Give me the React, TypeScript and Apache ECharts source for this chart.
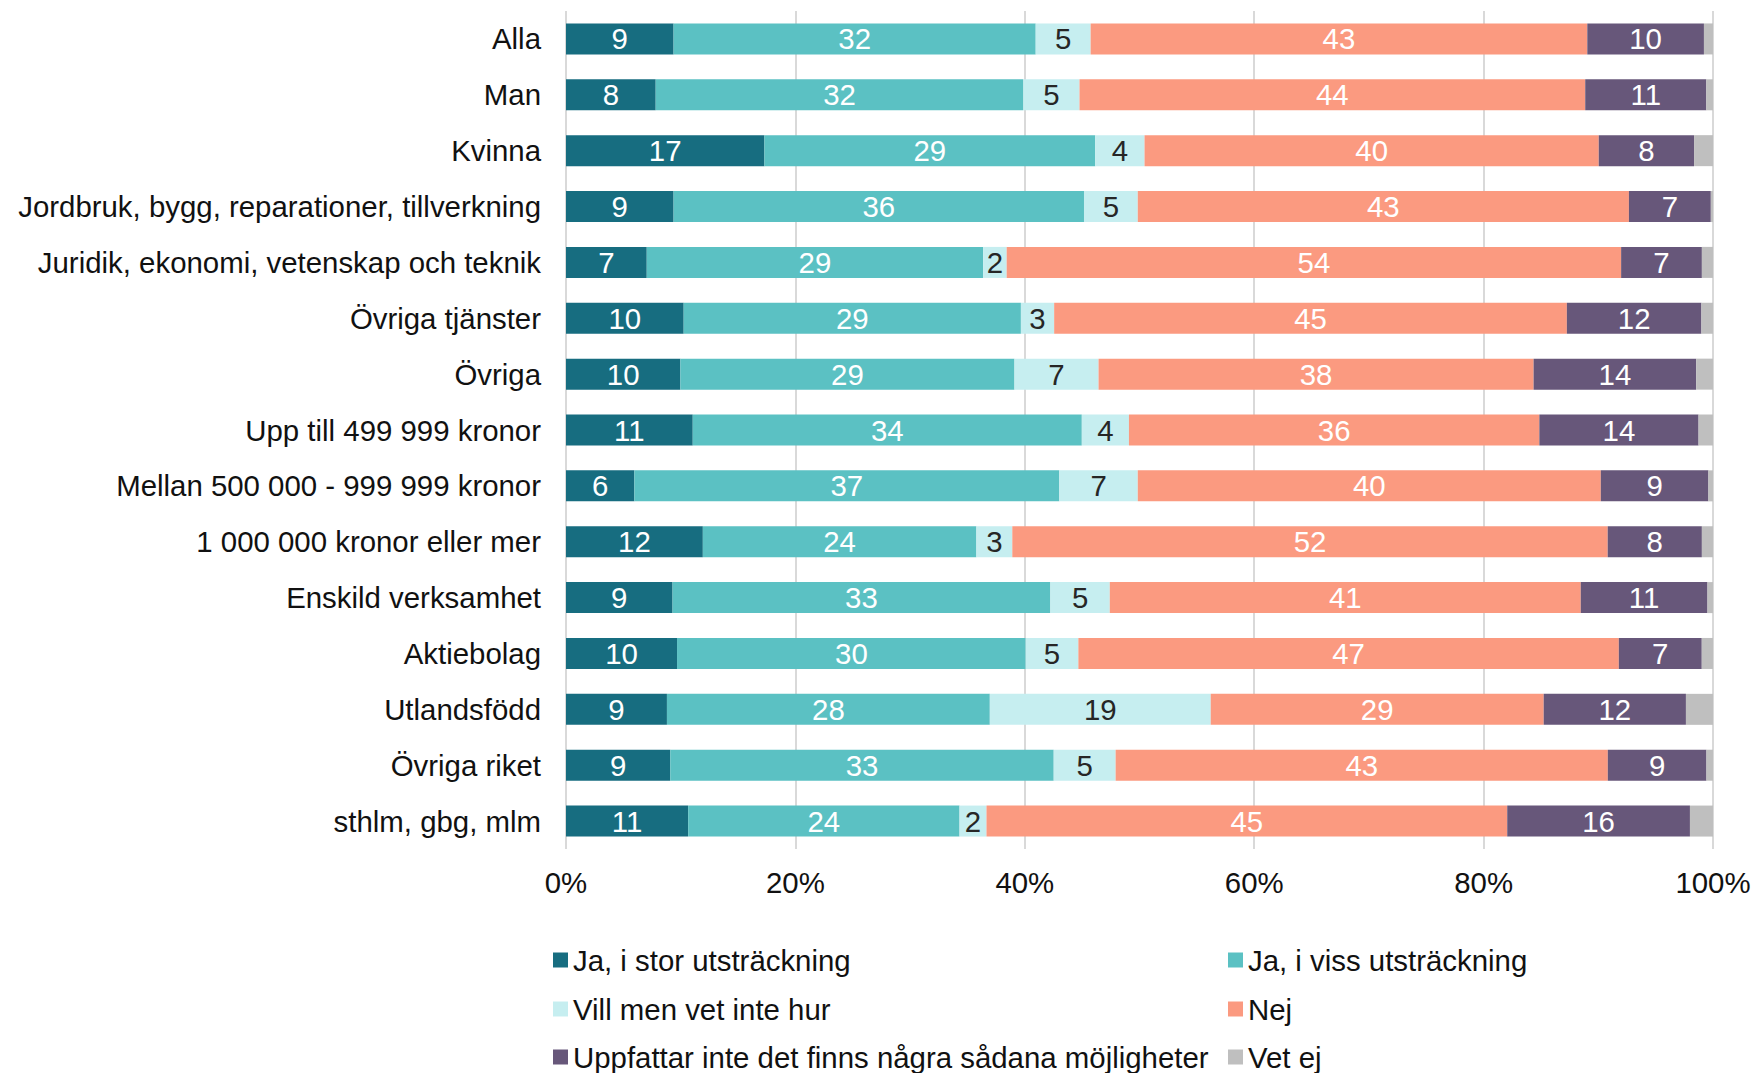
import React, { useEffect, useRef } from "react";
import * as echarts from "echarts";

const categories = [
  "Alla",
  "Man",
  "Kvinna",
  "Jordbruk, bygg, reparationer, tillverkning",
  "Juridik, ekonomi, vetenskap och teknik",
  "Övriga tjänster",
  "Övriga",
  "Upp till 499 999 kronor",
  "Mellan 500 000 - 999 999 kronor",
  "1 000 000 kronor eller mer",
  "Enskild verksamhet",
  "Aktiebolag",
  "Utlandsfödd",
  "Övriga riket",
  "sthlm, gbg, mlm",
];

const seriesNames = [
  "Ja, i stor utsträckning",
  "Ja, i viss utsträckning",
  "Vill men vet inte hur",
  "Nej",
  "Uppfattar inte det finns några sådana möjligheter",
  "Vet ej",
];

const jaStor = [9.38, 7.82, 17.3, 9.38, 7.04, 10.26, 9.97, 11.05, 5.96, 11.93, 9.29, 9.68, 8.8, 9.09, 10.65];
const jaViss = [31.57, 32.06, 28.84, 35.78, 29.33, 29.4, 29.13, 33.92, 37.05, 23.85, 32.94, 30.4, 28.15, 33.43, 23.66];
const villMen = [4.79, 4.89, 4.3, 4.69, 2.05, 2.9, 7.33, 4.11, 6.84, 3.13, 5.18, 4.59, 19.26, 5.4, 2.35];
const nej = [43.3, 44.09, 39.6, 42.82, 53.57, 44.7, 37.93, 35.78, 40.37, 51.91, 41.06, 47.12, 29.03, 42.91, 45.4];
const uppfattar = [10.17, 10.56, 8.31, 7.14, 7.04, 11.73, 14.17, 13.88, 9.38, 8.21, 11.05, 7.23, 12.4, 8.6, 15.93];
const vetEj = [0.79, 0.58, 1.65, 0.19, 0.97, 1.01, 1.47, 1.26, 0.4, 0.97, 0.48, 0.98, 2.36, 0.57, 2.01];

const xTicks = [0, 20, 40, 60, 80, 100];

const colors = ["#176d80", "#5bc1c3", "#c6eef0", "#fb9a80", "#67577a", "#bfbfbf"];
const labelColors = ["#ffffff", "#ffffff", "#262626", "#ffffff", "#ffffff", "#262626"];

const FONT = "'Liberation Sans', Arial, sans-serif";
const FS = 29.4;

export default function App() {
  const ref = useRef<HTMLDivElement>(null);

  useEffect(() => {
    if (!ref.current) return;
    const chart = echarts.init(ref.current, null, { renderer: "svg" });
    const data = [jaStor, jaViss, villMen, nej, uppfattar, vetEj];

    const series = data.map((vals, i) => ({
      name: seriesNames[i],
      type: "bar",
      stack: "total",
      barWidth: 31,
      data: vals,
      itemStyle: { color: colors[i] },
      label: {
        show: i !== 5,
        position: "inside",
        color: labelColors[i],
        fontSize: FS,
        fontFamily: FONT,
        formatter: (p: any) => String(Math.round(p.value)),
      },
      emphasis: { disabled: true },
    }));

    const legendPos = [
      [553, 945],
      [1228, 945],
      [553, 994],
      [1228, 994],
      [553, 1042],
      [1228, 1042],
    ];
    const legends = seriesNames.map((n, i) => ({
      left: legendPos[i][0],
      top: legendPos[i][1],
      padding: 0,
      icon: "rect",
      itemWidth: 15,
      itemHeight: 15,
      selectedMode: false,
      data: [n],
      textStyle: { fontSize: FS, fontFamily: FONT, color: "#111111", lineHeight: 30 },
    }));

    chart.setOption({
      animation: false,
      textStyle: { fontFamily: FONT },
      grid: { left: 566, right: 45, top: 11, bottom: 224, containLabel: false },
      legend: legends,
      xAxis: {
        type: "value",
        min: xTicks[0],
        max: xTicks[xTicks.length - 1],
        interval: 20,
        axisLine: { show: false },
        axisTick: { show: false },
        axisLabel: {
          formatter: "{value}%",
          fontSize: FS,
          fontFamily: FONT,
          color: "#111111",
          margin: 19,
        },
        splitLine: { show: true, lineStyle: { color: "#d9d9d9", width: 2 } },
      },
      yAxis: {
        type: "category",
        data: categories,
        inverse: true,
        axisLine: { show: false },
        axisTick: { show: false },
        axisLabel: { fontSize: FS, fontFamily: FONT, color: "#111111", margin: 25 },
      },
      series,
    });

    return () => chart.dispose();
  }, []);

  return (
    <div
      ref={ref}
      style={{ position: "fixed", left: 0, top: 0, width: 1758, height: 1073, background: "#ffffff" }}
    />
  );
}
